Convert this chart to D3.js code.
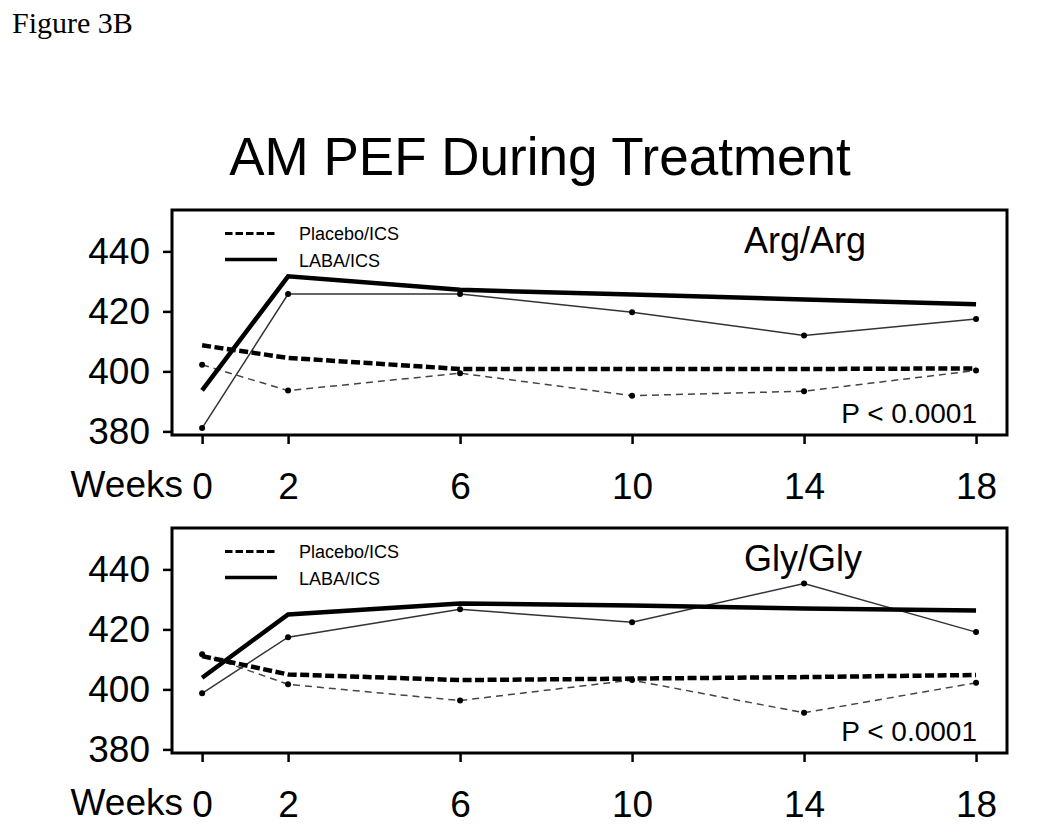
<!DOCTYPE html>
<html>
<head>
<meta charset="utf-8">
<script src="https://cdn.jsdelivr.net/npm/d3@7"></script>
<style>
  html, body { margin: 0; padding: 0; background: #fff; }
  svg { display: block; }
</style>
</head>
<body>
<script>
// ---- Data ----
const weeks = [0, 2, 6, 10, 14, 18];
const yTicks = [380, 400, 420, 440];
const seriesLabels = ["Placebo/ICS", "LABA/ICS"];
const panelNames = ["Arg/Arg", "Gly/Gly"];
const pValues = ["P < 0.0001", "P < 0.0001"];

// Arg/Arg panel
const argPlaceboObs = [402.2, 393.6, 399.4, 391.9, 393.4, 400.3];
const argPlaceboFit = [408.7, 404.5, 400.8, 400.8, 400.8, 401.0];
const argLabaObs    = [381.1, 425.8, 425.8, 419.7, 412.0, 417.5];
const argLabaFit    = [393.7, 431.7, 427.2, 425.6, 424.0, 422.4];

// Gly/Gly panel
const glyPlaceboObs = [411.7, 401.7, 396.3, 403.1, 392.2, 402.2];
const glyPlaceboFit = [411.1, 405.0, 403.1, 403.6, 404.1, 404.8];
const glyLabaObs    = [398.7, 417.4, 426.7, 422.4, 435.3, 419.1];
const glyLabaFit    = [403.9, 425.0, 428.6, 428.0, 427.0, 426.3];

const panels = [
  { name: panelNames[0], p: pValues[0], top: 210,
    placeboObs: argPlaceboObs, placeboFit: argPlaceboFit, labaObs: argLabaObs, labaFit: argLabaFit },
  { name: panelNames[1], p: pValues[1], top: 528,
    placeboObs: glyPlaceboObs, placeboFit: glyPlaceboFit, labaObs: glyLabaObs, labaFit: glyLabaFit }
];

// ---- Layout ----
const W = 1050, H = 834;
const left = 172, right = 1007, panelH = 225;
const sans = "Arial, 'Liberation Sans', Helvetica, sans-serif";

const svg = d3.select("body").append("svg").attr("width", W).attr("height", H);

svg.append("text").attr("x", 12).attr("y", 33)
  .attr("font-family", "'Times New Roman', 'Liberation Serif', serif")
  .attr("font-size", 30).text("Figure 3B");

svg.append("text").attr("x", 540).attr("y", 175).attr("text-anchor", "middle")
  .attr("font-family", sans).attr("font-size", 53).text("AM PEF During Treatment");

const x = d3.scaleLinear().domain([-0.7, 18.72]).range([left, right]);

panels.forEach(pn => {
  const y = d3.scaleLinear().domain([378.8, 453.8]).range([pn.top + panelH, pn.top]);
  const g = svg.append("g");

  // axes
  const ya = g.append("g").attr("transform", `translate(${left},0)`)
    .call(d3.axisLeft(y).tickValues(yTicks).tickSize(9).tickPadding(13).tickFormat(d3.format("d")));
  const xa = g.append("g").attr("transform", `translate(0,${pn.top + panelH})`)
    .call(d3.axisBottom(x).tickValues(weeks).tickSize(9).tickPadding(29).tickFormat(d3.format("d")));
  [ya, xa].forEach(a => {
    a.select(".domain").remove();
    a.selectAll(".tick line").attr("stroke", "#000").attr("stroke-width", 2.5);
    a.selectAll(".tick text").attr("font-family", sans).attr("font-size", 37).attr("fill", "#000");
  });

  g.append("text").attr("x", 183).attr("y", pn.top + panelH + 62).attr("text-anchor", "end")
    .attr("font-family", sans).attr("font-size", 37).text("Weeks");

  // frame
  g.append("rect").attr("x", left).attr("y", pn.top).attr("width", right - left).attr("height", panelH)
    .attr("fill", "none").attr("stroke", "#000").attr("stroke-width", 3);

  const line = d3.line().x((d, i) => x(weeks[i])).y(d => y(d));

  // observed placebo (thin dashed)
  g.append("path").datum(pn.placeboObs).attr("d", line).attr("fill", "none")
    .attr("stroke", "#444").attr("stroke-width", 1.5).attr("stroke-dasharray", "7,5");
  // observed LABA (thin solid)
  g.append("path").datum(pn.labaObs).attr("d", line).attr("fill", "none")
    .attr("stroke", "#333").attr("stroke-width", 1.5);
  // fitted placebo (bold dashed)
  g.append("path").datum(pn.placeboFit).attr("d", line).attr("fill", "none")
    .attr("stroke", "#000").attr("stroke-width", 4.5).attr("stroke-dasharray", "9,3.5");
  // fitted LABA (bold solid)
  g.append("path").datum(pn.labaFit).attr("d", line).attr("fill", "none")
    .attr("stroke", "#000").attr("stroke-width", 4.5);

  // dots
  [pn.placeboObs, pn.labaObs].forEach(s => {
    g.selectAll(null).data(s).enter().append("circle")
      .attr("cx", (d, i) => x(weeks[i])).attr("cy", d => y(d)).attr("r", 3).attr("fill", "#000");
  });

  // legend
  const lg = g.append("g");
  lg.append("line").attr("x1", 225).attr("x2", 277).attr("y1", pn.top + 23.5).attr("y2", pn.top + 23.5)
    .attr("stroke", "#000").attr("stroke-width", 3).attr("stroke-dasharray", "7.5,3");
  lg.append("line").attr("x1", 225).attr("x2", 277).attr("y1", pn.top + 49.5).attr("y2", pn.top + 49.5)
    .attr("stroke", "#000").attr("stroke-width", 3.5);
  lg.append("text").attr("x", 299).attr("y", pn.top + 30).attr("font-family", sans).attr("font-size", 18)
    .text(seriesLabels[0]);
  lg.append("text").attr("x", 299).attr("y", pn.top + 56.5).attr("font-family", sans).attr("font-size", 18)
    .text(seriesLabels[1]);

  g.append("text").attr("x", 744).attr("y", pn.top + 43).attr("font-family", sans).attr("font-size", 36)
    .text(pn.name);
  g.append("text").attr("x", 977).attr("y", pn.top + 212.5).attr("text-anchor", "end")
    .attr("font-family", sans).attr("font-size", 28).text(pn.p);
});
</script>
</body>
</html>
